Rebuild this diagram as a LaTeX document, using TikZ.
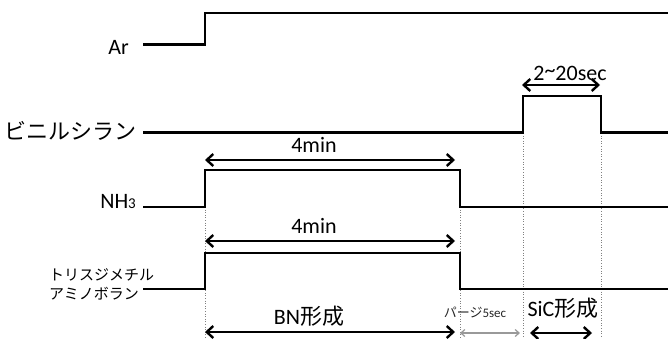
\documentclass[tikz,border=0pt]{standalone}
\usepackage{fontspec}
\setmainfont{Carlito}
\newfontfamily\jp{Noto Sans CJK JP}
\usetikzlibrary{arrows.meta}
\begin{document}
\begin{tikzpicture}[x=1pt,y=-1pt,
  sig/.style={line width=2.6pt, line join=miter},
  dimarrow/.style={line width=2.4pt, {Straight Barb[length=6.5pt,width=12pt]}-{Straight Barb[length=6.5pt,width=12pt]}},
  purgearrow/.style={line width=1.2pt, draw=gray!80, {Straight Barb[length=4pt,width=7pt]}-{Straight Barb[length=4pt,width=7pt]}},
  guide/.style={gray, dotted, line width=0.6pt},
  lbl/.style={font=\fontsize{22}{22}\selectfont, inner sep=0pt}]
\useasboundingbox (0,0) rectangle (668,338);

% guide lines
\coordinate (g1t) at (205,207); \coordinate (g1b) at (205,338);
\coordinate (g2t) at (460,207); \coordinate (g2b) at (460,338);
\coordinate (g3t) at (523,133); \coordinate (g3b) at (523,338);
\coordinate (g4t) at (601,133); \coordinate (g4b) at (601,338);
\draw[guide] (g1t) -- (g1b);
\draw[guide] (g2t) -- (g2b);
\draw[guide] (g3t) -- (g3b);
\draw[guide] (g4t) -- (g4b);

% Ar
\coordinate (ar0) at (143,44.5); \coordinate (ar1) at (205,44.5);
\coordinate (ar2) at (205,13); \coordinate (ar3) at (668,13);
\draw[sig] (ar0) -- (ar1) -- (ar2) -- (ar3);
\node[lbl, anchor=base east] (arL) at (129,54) {Ar};

% vinylsilane
\coordinate (vs0) at (143,132.5); \coordinate (vs1) at (523,132.5);
\coordinate (vs2) at (523,96); \coordinate (vs3) at (601,96);
\coordinate (vs4) at (601,132.5); \coordinate (vs5) at (668,132.5);
\draw[sig] (vs0) -- (vs1) -- (vs2) -- (vs3) -- (vs4) -- (vs5);
\node[lbl, anchor=east] (vsL) at (137,131) {\jp ビニルシラン};

% NH3
\coordinate (nh0) at (143,207); \coordinate (nh1) at (205,207);
\coordinate (nh2) at (205,170); \coordinate (nh3) at (460,170);
\coordinate (nh4) at (460,207); \coordinate (nh5) at (668,207);
\draw[sig] (nh0) -- (nh1) -- (nh2) -- (nh3) -- (nh4) -- (nh5);
\node[lbl, anchor=base east] (nhL) at (136,208) {NH{\fontsize{15}{15}\selectfont 3}};

% TMAB
\coordinate (tm0) at (143,289); \coordinate (tm1) at (205,289);
\coordinate (tm2) at (205,253); \coordinate (tm3) at (460,253);
\coordinate (tm4) at (460,289); \coordinate (tm5) at (668,289);
\draw[sig] (tm0) -- (tm1) -- (tm2) -- (tm3) -- (tm4) -- (tm5);
\node[anchor=west, align=left, font=\jp\fontsize{15}{19}\selectfont, inner sep=0pt] (tmL) at (49,284.5) {トリスジメチル\\アミノボラン};

% dimension arrows
\coordinate (d1l) at (205,160); \coordinate (d1r) at (455,160);
\draw[dimarrow] (d1l) -- (d1r);
\node[lbl, anchor=base] (d1t) at (314,152) {4min};

\coordinate (d2l) at (205,241); \coordinate (d2r) at (455,241);
\draw[dimarrow] (d2l) -- (d2r);
\node[lbl, anchor=base] (d2t) at (314,233) {4min};

\coordinate (d3l) at (522,85); \coordinate (d3r) at (600,85);
\draw[dimarrow] (d3l) -- (d3r);
\node[lbl, anchor=base] (d3t) at (570,80) {2\raisebox{3pt}{\textasciitilde}20sec};

\coordinate (bnl) at (205,332); \coordinate (bnr) at (455,332);
\draw[dimarrow] (bnl) -- (bnr);
\node[lbl, anchor=base] (bnt) at (309,324) {BN{\jp 形成}};

\coordinate (pgl) at (460,333); \coordinate (pgr) at (520,333);
\draw[purgearrow] (pgl) -- (pgr);
\node[anchor=base, inner sep=0pt, font=\fontsize{13}{13}\selectfont, text=black!85] (pgt) at (475,317) {{\jp パージ}5sec};

\coordinate (scl) at (530,333); \coordinate (scr) at (592,333);
\draw[dimarrow] (scl) -- (scr);
\node[lbl, anchor=base] (sct) at (563,316) {SiC{\jp 形成}};
\end{tikzpicture}
\end{document}
